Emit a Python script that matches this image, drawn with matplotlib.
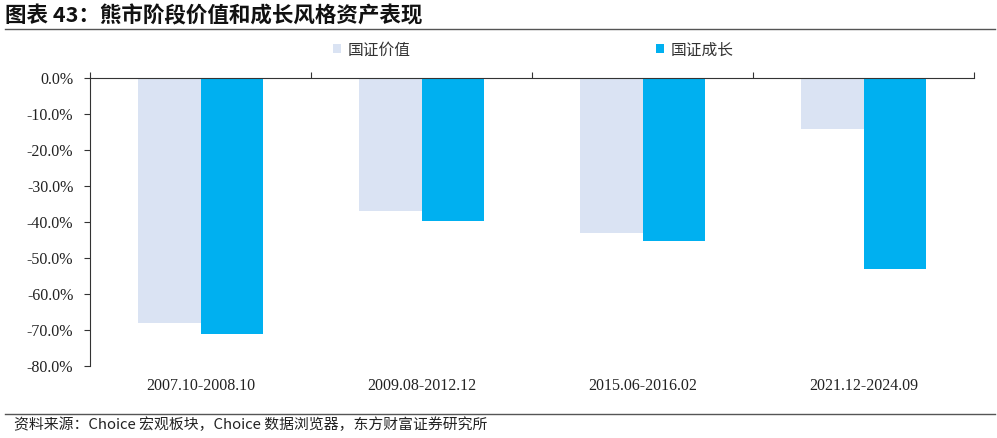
import matplotlib.pyplot as plt
import numpy as np

plt.rcParams['font.family'] = ['Noto Sans CJK SC', 'DejaVu Sans']

# data (%)
periods = ["2007.10-2008.10", "2009.08-2012.12", "2015.06-2016.02", "2021.12-2024.09"]
value_ret = [-68.0, -36.9, -43.0, -14.2]
growth_ret = [-71.1, -39.7, -45.3, -53.1]
series_names = ["国证价值", "国证成长"]
yticks = [0, -10, -20, -30, -40, -50, -60, -70, -80]

c_value = "#DAE3F3"
c_growth = "#00B0F0"

fig = plt.figure(figsize=(9.97, 4.38), dpi=100)
ax = fig.add_axes([90/997, 1-366/438, 884/997, 288/438])

x = np.arange(len(periods))
w = 0.285
ax.bar(x - w/2, value_ret, w, color=c_value, label=series_names[0])
ax.bar(x + w/2, growth_ret, w, color=c_growth, label=series_names[1])

ax.set_xlim(-0.5, len(periods) - 0.5)
ax.set_ylim(-80, 0)
ax.set_yticks(yticks)
ax.set_yticklabels(["%.1f%%" % v for v in yticks], family="Liberation Serif", fontsize=11.5, color="#222222")
ax.tick_params(axis="y", direction="out", length=4, color="#333333", pad=8)

# category labels at the bottom, boundary ticks on the zero line
ax.xaxis.set_ticks_position("top")
ax.set_xticks(np.arange(len(periods) + 1) - 0.5)
ax.set_xticklabels([])
ax.tick_params(axis="x", direction="out", length=4, color="#333333")
for i, p in enumerate(periods):
    ax.text(i, -83.3, p, ha="center", va="top", family="Liberation Serif", fontsize=11.5, color="#222222")

for s in ["right", "bottom"]:
    ax.spines[s].set_visible(False)
ax.spines["left"].set_color("#333333")
ax.spines["top"].set_color("#333333")

leg = fig.legend(loc="center left", bbox_to_anchor=(333/997, 1-50/438), ncol=2, frameon=False,
                 fontsize=11.3, handlelength=0.5, handleheight=0.5, columnspacing=15.6,
                 handletextpad=0.45, borderaxespad=0, borderpad=0)
for t in leg.get_texts():
    t.set_color("#333333")

# title, rules and source
fig.text(5/997, 1-16/438, "图表 43：熊市阶段价值和成长风格资产表现", fontsize=15.5, fontweight="bold", va="center", color="#111111")
fig.add_artist(plt.Line2D([5/997, 995/997], [1-29/438, 1-29/438], color="#555555", lw=1))
fig.add_artist(plt.Line2D([5/997, 995/997], [1-414/438, 1-414/438], color="#555555", lw=1))
fig.text(14/997, 1-425/438, "资料来源：Choice 宏观板块，Choice 数据浏览器，东方财富证券研究所", fontsize=10.7, va="center", color="#222222")

fig.savefig("out.png", dpi=100)
